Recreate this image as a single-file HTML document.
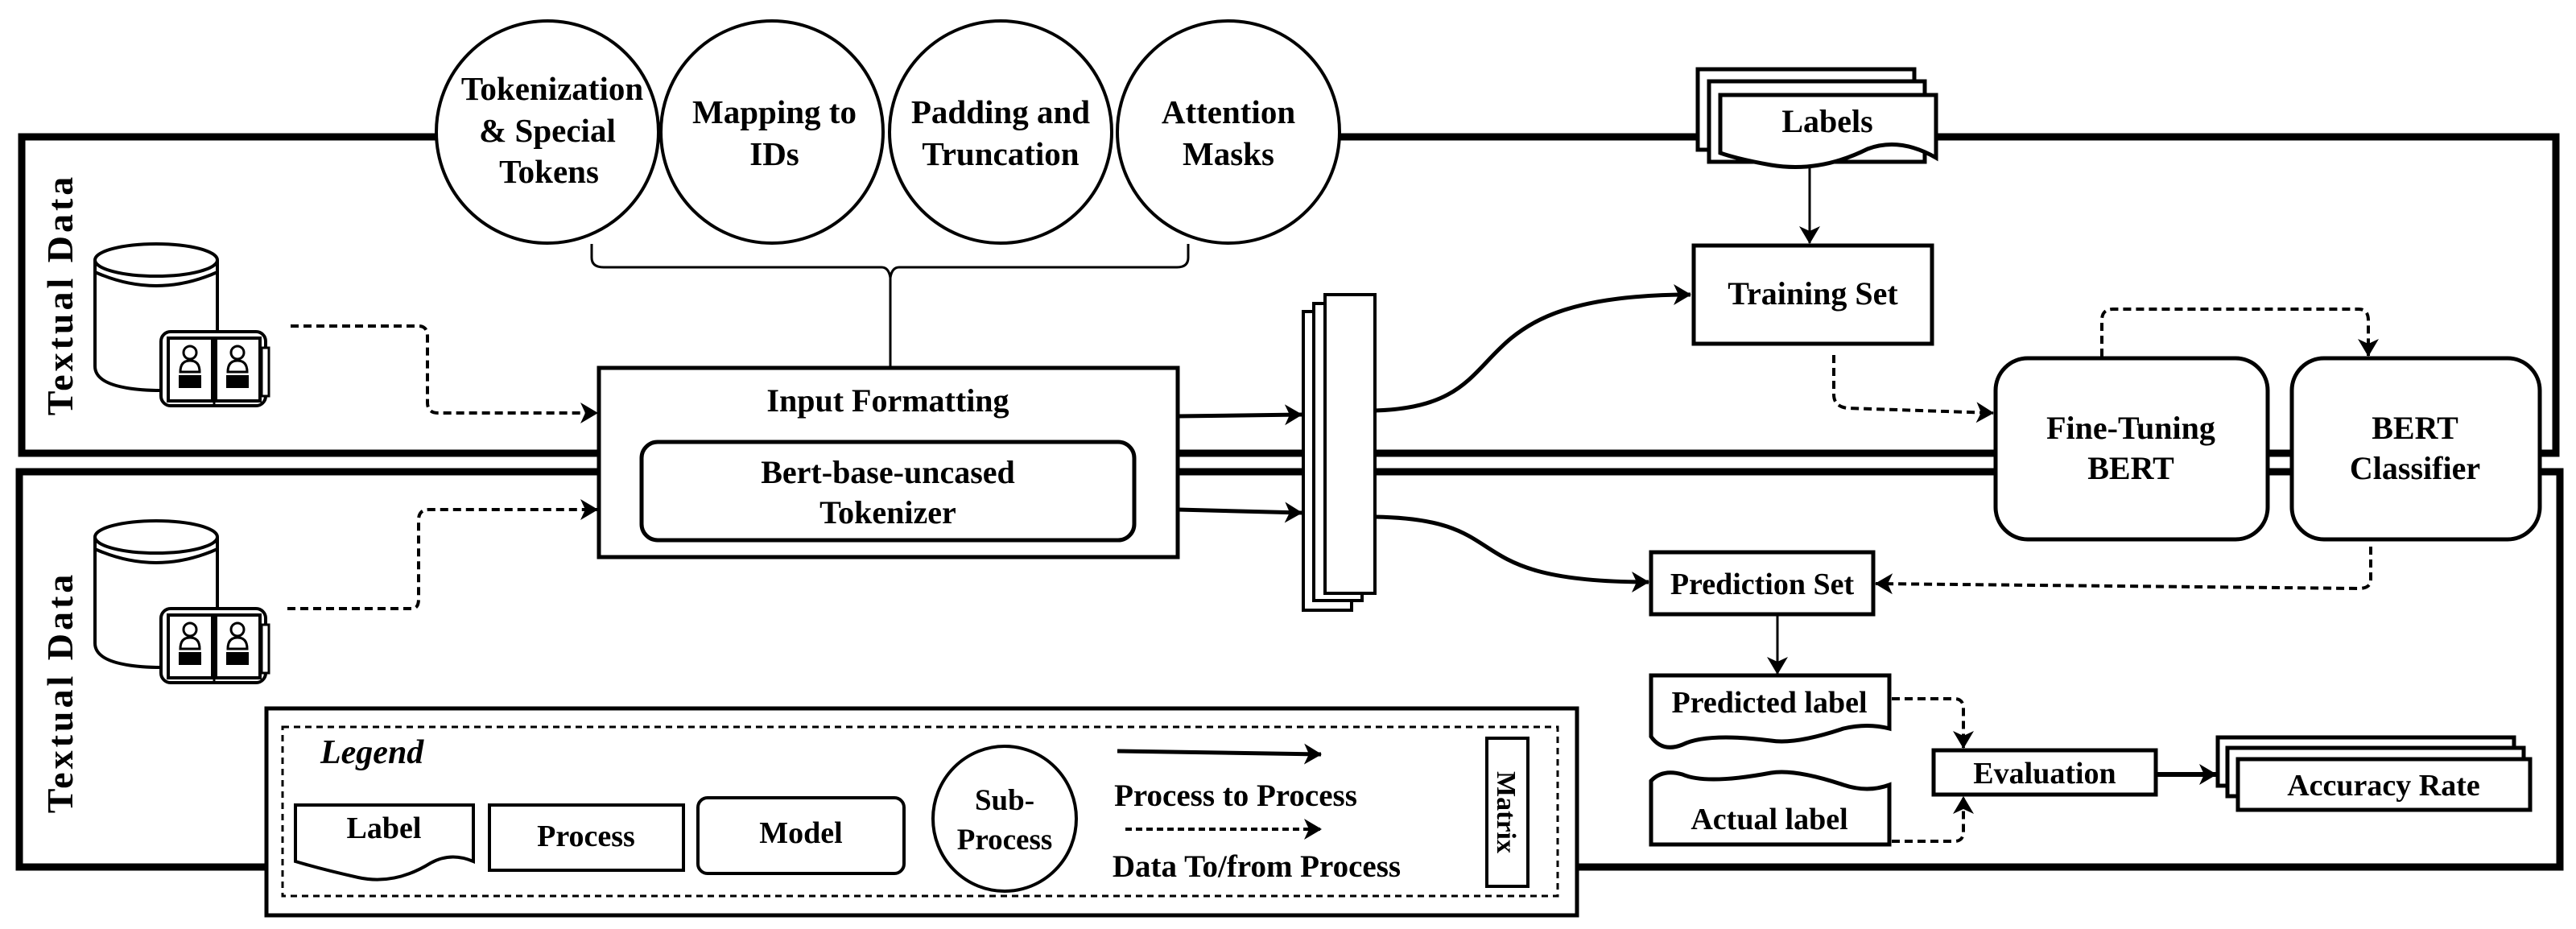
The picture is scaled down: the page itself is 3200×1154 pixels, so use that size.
<!DOCTYPE html>
<html><head><meta charset="utf-8"><style>
html,body{margin:0;padding:0;background:#fff;}
svg{display:block;}
text{font-family:"Liberation Serif",serif;font-weight:bold;fill:#000;}
</style></head><body>
<svg width="3200" height="1154" viewBox="0 0 3200 1154" xmlns="http://www.w3.org/2000/svg">
<defs>
<marker id="ahb" markerWidth="22" markerHeight="26" refX="21" refY="13" orient="auto" markerUnits="userSpaceOnUse">
<path d="M0,0 L22,13 L0,26 L6,13 z" fill="#000"/></marker>
<g id="cyl">
<path d="M118,323 L118,455 Q118,483 194,485 L270,485 L270,323" fill="#fff" stroke="#000" stroke-width="4"/>
<path d="M118,338 Q194,372 270,338" fill="none" stroke="#000" stroke-width="4"/>
<ellipse cx="194" cy="323" rx="76" ry="20" fill="#fff" stroke="#000" stroke-width="4"/>
<rect x="200" y="412" width="130" height="92" rx="12" fill="#fff" stroke="#000" stroke-width="4"/>
<rect x="209" y="420" width="55" height="78" fill="#fff" stroke="#000" stroke-width="4"/>
<rect x="268" y="420" width="55" height="78" fill="#fff" stroke="#000" stroke-width="4"/>
<line x1="266" y1="420" x2="266" y2="505" stroke="#000" stroke-width="3"/>
<circle cx="236" cy="438" r="8" fill="none" stroke="#000" stroke-width="3"/>
<path d="M224,462 Q224,448 236,448 Q248,448 248,462 Z" fill="none" stroke="#000" stroke-width="3"/>
<rect x="222" y="466" width="28" height="16" fill="#000"/>
<circle cx="295" cy="438" r="8" fill="none" stroke="#000" stroke-width="3"/>
<path d="M283,462 Q283,448 295,448 Q307,448 307,462 Z" fill="none" stroke="#000" stroke-width="3"/>
<rect x="281" y="466" width="28" height="16" fill="#000"/>
<rect x="325" y="432" width="9" height="60" fill="#fff" stroke="#000" stroke-width="3"/>
</g>
</defs>

<path d="M542,170 L27,170 L27,563 L3175,563 L3175,170 L2405,170" fill="none" stroke="#000" stroke-width="9"/>
<line x1="1664" y1="170" x2="2109" y2="170" stroke="#000" stroke-width="9"/>
<rect x="24" y="586" width="3156" height="491" fill="none" stroke="#000" stroke-width="9"/>

<text transform="translate(90,366) rotate(-90)" text-anchor="middle" font-size="46" letter-spacing="4">Textual Data</text>
<text transform="translate(90,860) rotate(-90)" text-anchor="middle" font-size="46" letter-spacing="4">Textual Data</text>

<use href="#cyl"/>
<use href="#cyl" transform="translate(0,344)"/>

<g fill="#fff" stroke="#000" stroke-width="4">
<circle cx="680" cy="164" r="138"/>
<circle cx="959" cy="164" r="138"/>
<circle cx="1243" cy="164" r="138"/>
<circle cx="1526" cy="164" r="138"/>
</g>
<g font-size="41" text-anchor="middle">
<text x="686" y="124">Tokenization</text>
<text x="680" y="176">&amp; Special</text>
<text x="682" y="227">Tokens</text>
<text x="962" y="153">Mapping to</text>
<text x="962" y="205">IDs</text>
<text x="1243" y="153">Padding and</text>
<text x="1243" y="205">Truncation</text>
<text x="1526" y="153">Attention</text>
<text x="1526" y="205">Masks</text>
</g>
<path d="M735,303 L735,320 Q735,332 750,332 L1095,332 Q1104,332 1106,345 Q1108,332 1117,332 L1462,332 Q1476,332 1476,320 L1476,303" fill="none" stroke="#000" stroke-width="3"/>
<line x1="1106" y1="343" x2="1106" y2="457" stroke="#000" stroke-width="3"/>

<rect x="744" y="457" width="719" height="235" fill="#fff" stroke="#000" stroke-width="5"/>
<rect x="797" y="549" width="612" height="122" rx="20" fill="#fff" stroke="#000" stroke-width="5"/>
<text x="1103" y="511" font-size="40" text-anchor="middle">Input Formatting</text>
<text x="1103" y="600" font-size="40" text-anchor="middle">Bert-base-uncased</text>
<text x="1103" y="650" font-size="40" text-anchor="middle">Tokenizer</text>

<path d="M361,405 L520,405 Q531,405 531,418 L531,500 Q531,513 544,513 L742,513" fill="none" stroke="#000" stroke-width="4" stroke-dasharray="10,6" marker-end="url(#ahb)"/>
<path d="M357,756 L512,756 Q520,756 520,744 L520,646 Q520,633 533,633 L742,633" fill="none" stroke="#000" stroke-width="4" stroke-dasharray="10,6" marker-end="url(#ahb)"/>

<line x1="1463" y1="517" x2="1617" y2="515" stroke="#000" stroke-width="5" marker-end="url(#ahb)"/>
<line x1="1463" y1="633" x2="1617" y2="637" stroke="#000" stroke-width="5" marker-end="url(#ahb)"/>

<g fill="#fff" stroke="#000" stroke-width="4">
<rect x="1619" y="387" width="60" height="371"/>
<rect x="1632" y="377" width="60" height="369"/>
<rect x="1646" y="366" width="62" height="371"/>
</g>

<path d="M1708,510 C1900,505 1790,366 2100,366" fill="none" stroke="#000" stroke-width="5" marker-end="url(#ahb)"/>
<path d="M1708,642 C1890,645 1800,723 2048,723" fill="none" stroke="#000" stroke-width="5" marker-end="url(#ahb)"/>

<g fill="#fff" stroke="#000" stroke-width="5">
<rect x="2109" y="86" width="269" height="100"/>
<rect x="2123" y="101" width="268" height="100"/>
<path d="M2137,118 L2405,118 L2405,196 Q2360,170 2320,185 Q2260,215 2200,205 Q2160,198 2137,190 Z"/>
</g>
<text x="2270" y="164" font-size="40" text-anchor="middle">Labels</text>
<line x1="2248" y1="207" x2="2248" y2="302" stroke="#000" stroke-width="3" marker-end="url(#ahb)"/>

<rect x="2104" y="305" width="296" height="122" fill="#fff" stroke="#000" stroke-width="5"/>
<text x="2252" y="378" font-size="40" text-anchor="middle">Training Set</text>
<path d="M2278,441 L2278,490 Q2278,505 2295,507 L2476,513" fill="none" stroke="#000" stroke-width="4" stroke-dasharray="10,6" marker-end="url(#ahb)"/>

<rect x="2479" y="445" width="338" height="225" rx="40" fill="#fff" stroke="#000" stroke-width="5"/>
<rect x="2847" y="445" width="308" height="225" rx="40" fill="#fff" stroke="#000" stroke-width="5"/>
<text x="2647" y="545" font-size="40" text-anchor="middle">Fine-Tuning</text>
<text x="2647" y="595" font-size="40" text-anchor="middle">BERT</text>
<text x="3000" y="545" font-size="40" text-anchor="middle">BERT</text>
<text x="3000" y="595" font-size="40" text-anchor="middle">Classifier</text>
<path d="M2611,443 L2611,398 Q2611,384 2625,384 L2930,384 Q2942,384 2942,398 L2942,442" fill="none" stroke="#000" stroke-width="4" stroke-dasharray="10,6" marker-end="url(#ahb)"/>
<path d="M2945,679 L2945,720 Q2945,731 2930,731 L2330,725" fill="none" stroke="#000" stroke-width="4" stroke-dasharray="10,6" marker-end="url(#ahb)"/>

<rect x="2051" y="686" width="276" height="77" fill="#fff" stroke="#000" stroke-width="5"/>
<text x="2189" y="738" font-size="38" text-anchor="middle">Prediction Set</text>
<line x1="2208" y1="763" x2="2208" y2="837" stroke="#000" stroke-width="3" marker-end="url(#ahb)"/>

<path d="M2051,839 L2347,839 L2347,905 Q2320,898 2290,905 Q2230,925 2200,920 Q2120,910 2090,925 Q2065,935 2051,915 Z" fill="#fff" stroke="#000" stroke-width="5"/>
<text x="2198" y="885" font-size="38" text-anchor="middle">Predicted label</text>
<path d="M2051,1049 L2347,1049 L2347,975 Q2320,985 2290,975 Q2230,955 2200,960 Q2120,975 2090,962 Q2065,955 2051,970 Z" fill="#fff" stroke="#000" stroke-width="5"/>
<text x="2198" y="1030" font-size="38" text-anchor="middle">Actual label</text>
<path d="M2350,868 L2428,868 Q2439,868 2439,880 L2439,929" fill="none" stroke="#000" stroke-width="4" stroke-dasharray="10,6" marker-end="url(#ahb)"/>
<path d="M2350,1045 L2428,1045 Q2439,1045 2439,1033 L2439,990" fill="none" stroke="#000" stroke-width="4" stroke-dasharray="10,6" marker-end="url(#ahb)"/>

<rect x="2402" y="932" width="276" height="55" fill="#fff" stroke="#000" stroke-width="5"/>
<text x="2540" y="973" font-size="38" text-anchor="middle">Evaluation</text>
<line x1="2678" y1="962" x2="2753" y2="962" stroke="#000" stroke-width="6" marker-end="url(#ahb)"/>
<g fill="#fff" stroke="#000" stroke-width="5">
<rect x="2755" y="916" width="368" height="60"/>
<rect x="2767" y="929" width="368" height="60"/>
<rect x="2780" y="943" width="363" height="63"/>
</g>
<text x="2961" y="988" font-size="38" text-anchor="middle">Accuracy Rate</text>

<rect x="331" y="880" width="1628" height="257" fill="#fff" stroke="#000" stroke-width="5"/>
<rect x="351" y="903" width="1584" height="210" fill="none" stroke="#000" stroke-width="3" stroke-dasharray="8,6"/>
<text x="398" y="948" font-size="42" font-style="italic">Legend</text>
<path d="M367,1000 L588,1000 L588,1070 Q560,1058 535,1072 Q490,1100 445,1090 Q400,1080 367,1070 Z" fill="#fff" stroke="#000" stroke-width="4"/>
<text x="477" y="1041" font-size="38" text-anchor="middle">Label</text>
<rect x="608" y="1000" width="241" height="81" fill="#fff" stroke="#000" stroke-width="4"/>
<text x="728" y="1051" font-size="38" text-anchor="middle">Process</text>
<rect x="867" y="991" width="256" height="94" rx="12" fill="#fff" stroke="#000" stroke-width="4"/>
<text x="995" y="1047" font-size="38" text-anchor="middle">Model</text>
<ellipse cx="1248" cy="1017" rx="89" ry="90" fill="#fff" stroke="#000" stroke-width="4"/>
<text x="1248" y="1006" font-size="37" text-anchor="middle">Sub-</text>
<text x="1248" y="1055" font-size="37" text-anchor="middle">Process</text>
<line x1="1388" y1="933" x2="1641" y2="937" stroke="#000" stroke-width="5" marker-end="url(#ahb)"/>
<text x="1535" y="1001" font-size="39" text-anchor="middle">Process to Process</text>
<line x1="1398" y1="1030" x2="1641" y2="1030" stroke="#000" stroke-width="4" stroke-dasharray="8,5" marker-end="url(#ahb)"/>
<text x="1561" y="1089" font-size="39" text-anchor="middle">Data To/from Process</text>
<rect x="1847" y="917" width="51" height="184" fill="#fff" stroke="#000" stroke-width="4"/>
<text transform="translate(1860,1009) rotate(90)" font-size="34" text-anchor="middle">Matrix</text>
</svg>
</body></html>
